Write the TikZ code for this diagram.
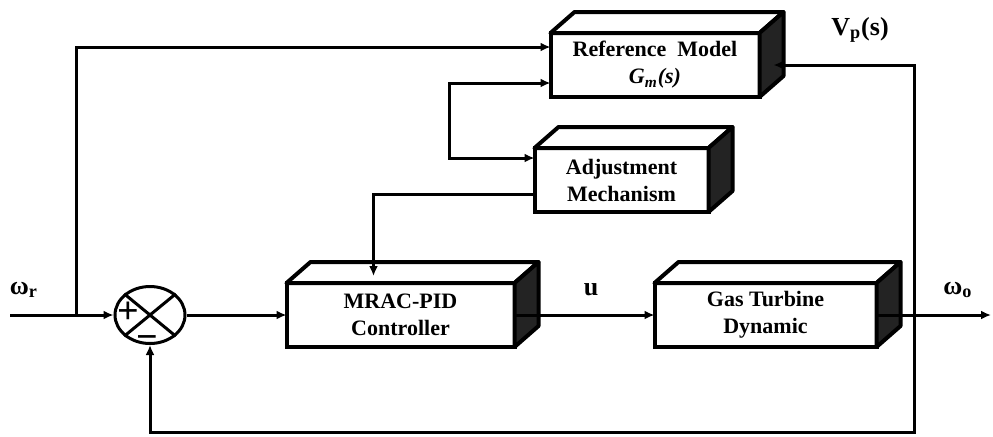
\documentclass[tikz,border=0pt]{standalone}
\usepackage{fontspec}
\setmainfont{Liberation Serif}
\usetikzlibrary{arrows.meta, positioning, shapes.geometric, calc}
\definecolor{sidegray}{RGB}{35, 35, 35}

\begin{document}
\begin{tikzpicture}[
    x=0.5pt, y=-0.5pt,
    >={Latex[length=5pt, width=4.5pt]},
    box/.style={draw, line width=2pt, outer sep=0pt, minimum height=32pt, align=center,
                fill=white, font=\bfseries\fontsize{11}{13.5}\selectfont},
    arr/.style={->, line width=1.5pt},
    arrboth/.style={<->, line width=1.5pt},
    lbl/.style={font=\bfseries\fontsize{13}{15}\selectfont},
    sign/.style={font=\bfseries\fontsize{19}{19}\selectfont, inner sep=0pt}
]
    \useasboundingbox (0,0) rectangle (993,436);

    % summing junction
    \node[draw, ellipse, line width=1.5pt, minimum width=35pt, minimum height=28.5pt,
          inner sep=0pt] (sum) at (150,315) {};
    \draw[line width=1.5pt] (sum.north east) -- (sum.south west)
                            (sum.north west) -- (sum.south east);
    \node[sign] (plus) at ($(sum.center)+(-22,-2)$) {+};
    \node[sign] (minus) at ($(sum.center)+(-3,28)$) {−};

    % blocks
    \node[box, minimum width=114pt, right=50pt of sum] (ctrl) {MRAC-PID\\Controller};
    \node[box, minimum width=111pt, right=70pt of ctrl] (gt) {Gas Turbine\\Dynamic};
    \node[box, minimum width=87pt, above right=35.5pt and 10pt of ctrl] (adj) {Adjustment\\Mechanism};
    \node[box, minimum width=104.5pt, above=25.5pt of adj, xshift=16.75pt] (ref)
        {Reference \ Model\\\textit{G\textsubscript{m}(s)}};

    % 3d faces
    \foreach \b in {ref,adj,ctrl,gt} {
        \draw[line width=2pt, fill=white, line join=round] (\b.north west) -- ++(24,-21)
            -- ($(\b.north east)+(24,-21)$) -- (\b.north east) -- cycle;
        \draw[line width=2pt, fill=sidegray, line join=round] (\b.north east) -- ++(24,-21)
            -- ($(\b.south east)+(24,-21)$) -- (\b.south east) -- cycle;
    }

    % signals
    \coordinate (in) at (10,315);
    \coordinate (br) at (76,315);
    \coordinate (out) at (991,315);
    \coordinate (tap) at (914,315);
    \coordinate (fb) at (914,432);
    \coordinate (jn) at (449,120);

    \draw[arr] (in) -- (sum.west);
    \draw[arr] (br) |- ($(ref.west)+(0,-18)$);
    \draw[arr] (sum.east) -- (ctrl.west);
    \draw[arr] (ctrl.east) -- (gt.west);
    \draw[arr] (gt.east) -- (out);
    \draw[arr] (tap) |- ($(ref.east)+(14,0)$);
    \draw[arr] (tap) -- (fb) -| (sum.south);
    \draw[arrboth] ($(ref.west)+(0,18)$) -| (jn) |- ($(adj.west)+(0,-22)$);
    \draw[arr] ($(adj.west)+(0,14)$) -| ($(ctrl.north)+(-27,-7)$);

    % labels
    \node[lbl] (wr) at (24,290) {ω\textsubscript{r}};
    \node[lbl] (ulbl) at (591,290) {u};
    \node[lbl] (wo) at (958,290) {ω\textsubscript{o}};
    \node[lbl] (vp) at (860,30) {V\textsubscript{p}(s)};
\end{tikzpicture}
\end{document}
